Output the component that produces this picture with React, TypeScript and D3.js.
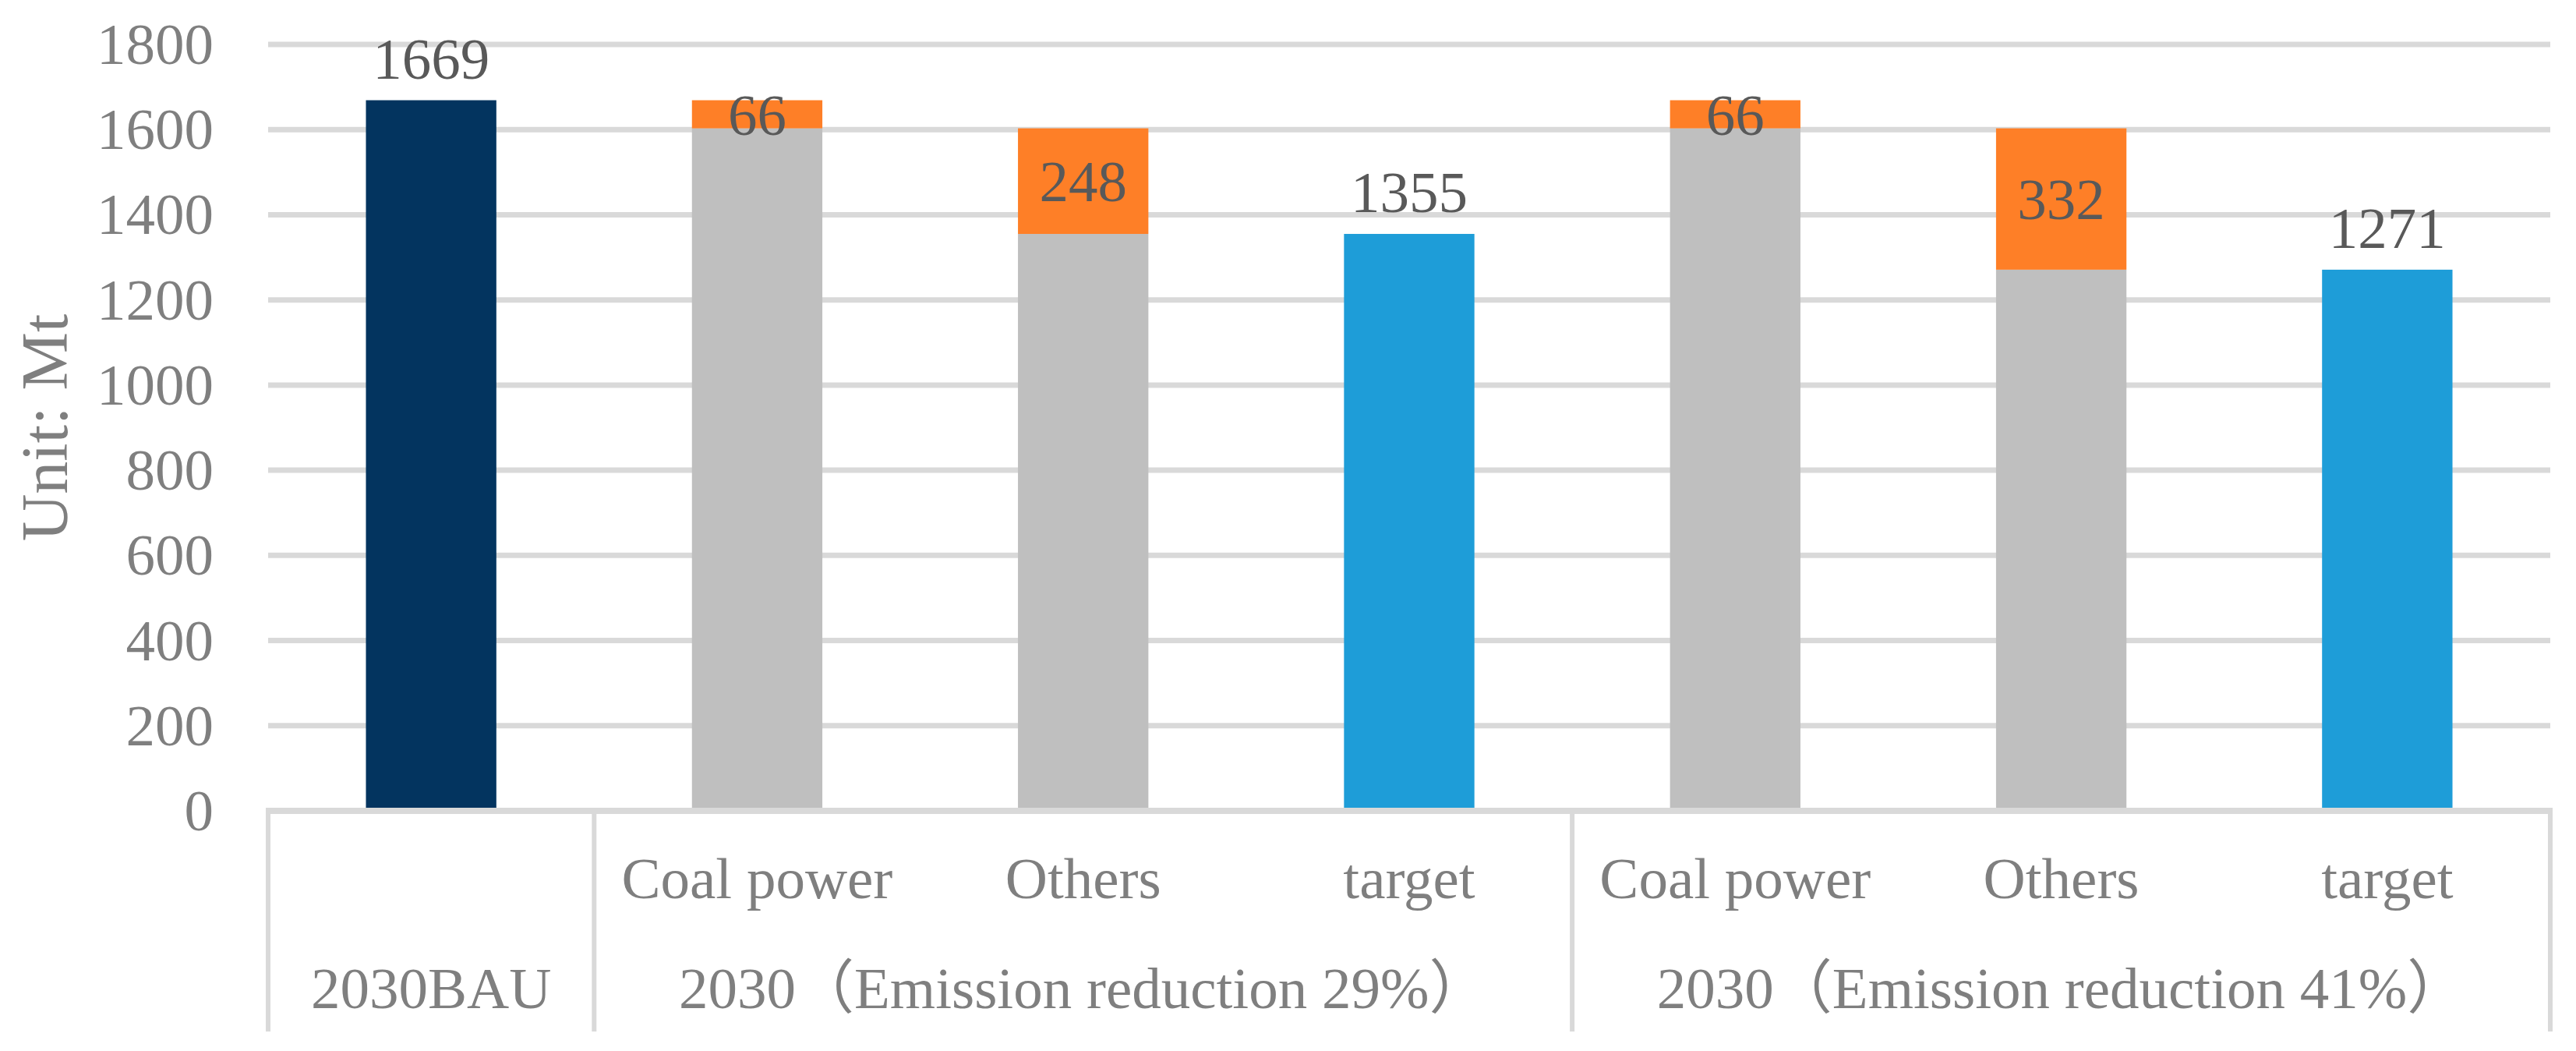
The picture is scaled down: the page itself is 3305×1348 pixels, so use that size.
import { useEffect, useRef } from 'react';
import * as d3 from 'd3';

// categories along the x axis (index keyed, names repeat)
const subLabels = ['', 'Coal power', 'Others', 'target', 'Coal power', 'Others', 'target'];
const barKinds = ['bau', 'step', 'step', 'target', 'step', 'step', 'target'];
// bottom part of each bar
const baseValues = [1669, 1603, 1355, 1355, 1603, 1271, 1271];
// reduction stacked on top (orange)
const reductionValues = [0, 66, 248, 0, 66, 332, 0];
// printed labels
const labelValues = [1669, 66, 248, 1355, 66, 332, 1271];
const groupLabels = ['2030BAU', '2030（Emission reduction 29%）', '2030（Emission reduction 41%）'];
const groupStart = [0, 1, 4];
const groupEnd = [0, 3, 6];
const yTicks = [0, 200, 400, 600, 800, 1000, 1200, 1400, 1600, 1800];

const colors: Record<string, string> = {
  bau: '#03345f',
  step: '#bfbfbf',
  target: '#1e9dd8',
  reduction: '#fe7f27',
};

export default function App() {
  const svgRef = useRef<SVGSVGElement>(null);

  useEffect(() => {
    if (!svgRef.current) return;
    const width = 3305;
    const height = 1348;
    const font = "'Liberation Serif', 'Times New Roman', 'Noto Sans CJK SC', serif";
    const fs = 75;

    const svg = d3.select(svgRef.current);
    svg.selectAll('*').remove();
    svg.attr('width', width).attr('height', height);

    const left = 344, right = 3272, top = 57, bottom = 1040, tableBottom = 1323;

    const idx = subLabels.map((_, i) => String(i));
    const x = d3.scaleBand().domain(idx).range([left, right]).paddingInner(0.6).paddingOuter(0.3);
    const step = x.step();
    const y = d3.scaleLinear().domain([0, 1800]).range([bottom, top]);

    // gridlines
    svg.append('g')
      .selectAll('line')
      .data(yTicks.filter(t => t > 0))
      .enter()
      .append('line')
      .attr('x1', left)
      .attr('x2', right)
      .attr('y1', d => y(d))
      .attr('y2', d => y(d))
      .attr('stroke', '#d9d9d9')
      .attr('stroke-width', 7);

    // y tick labels
    svg.append('g')
      .selectAll('text')
      .data(yTicks)
      .enter()
      .append('text')
      .attr('x', 274)
      .attr('y', d => y(d) + 25)
      .attr('text-anchor', 'end')
      .attr('font-family', font)
      .attr('font-size', fs)
      .attr('fill', '#7f7f7f')
      .text(d => d);

    // y axis title
    svg.append('text')
      .attr('transform', `translate(86, ${(top + bottom) / 2}) rotate(-90)`)
      .attr('text-anchor', 'middle')
      .attr('font-family', font)
      .attr('font-size', 84)
      .attr('fill', '#7f7f7f')
      .text('Unit: Mt');

    // bars
    const bars = svg.append('g');
    baseValues.forEach((v, i) => {
      bars.append('rect')
        .attr('x', x(String(i))!)
        .attr('width', x.bandwidth())
        .attr('y', y(v))
        .attr('height', y(0) - y(v))
        .attr('fill', colors[barKinds[i]]);
      if (reductionValues[i] > 0) {
        bars.append('rect')
          .attr('x', x(String(i))!)
          .attr('width', x.bandwidth())
          .attr('y', y(v + reductionValues[i]))
          .attr('height', y(v) - y(v + reductionValues[i]))
          .attr('fill', colors.reduction);
      }
    });

    // data labels
    labelValues.forEach((v, i) => {
      const cx = x(String(i))! + x.bandwidth() / 2;
      let ly: number;
      if (reductionValues[i] > 0) {
        const base = baseValues[i];
        ly = (y(base) + y(base + reductionValues[i])) / 2 + 26;
      } else {
        ly = y(baseValues[i]) - 28;
      }
      svg.append('text')
        .attr('x', cx)
        .attr('y', ly)
        .attr('text-anchor', 'middle')
        .attr('font-family', font)
        .attr('font-size', fs)
        .attr('fill', '#595959')
        .text(v);
    });

    // axis line + table
    const axis = svg.append('g').attr('stroke', '#d9d9d9');
    axis.append('line')
      .attr('x1', left - 3)
      .attr('x2', right + 3)
      .attr('y1', bottom)
      .attr('y2', bottom)
      .attr('stroke-width', 8);

    const edges = [left, ...groupEnd.map(e => left + step * (e + 1))];
    edges.forEach(ex => {
      axis.append('line')
        .attr('x1', ex)
        .attr('x2', ex)
        .attr('y1', bottom)
        .attr('y2', tableBottom)
        .attr('stroke-width', 6);
    });

    // sub category labels
    subLabels.forEach((s, i) => {
      if (!s) return;
      svg.append('text')
        .attr('x', x(String(i))! + x.bandwidth() / 2)
        .attr('y', 1152)
        .attr('text-anchor', 'middle')
        .attr('font-family', font)
        .attr('font-size', fs)
        .attr('fill', '#7f7f7f')
        .text(s);
    });

    // group labels
    groupLabels.forEach((g, i) => {
      const x0 = left + step * groupStart[i];
      const x1 = left + step * (groupEnd[i] + 1);
      svg.append('text')
        .attr('x', (x0 + x1) / 2)
        .attr('y', 1293)
        .attr('text-anchor', 'middle')
        .attr('font-family', font)
        .attr('font-size', fs)
        .attr('fill', '#7f7f7f')
        .text(g);
    });
  }, []);

  return (
    <div style={{ position: 'absolute', left: 0, top: 0, background: '#fff' }}>
      <svg ref={svgRef} style={{ display: 'block' }}></svg>
    </div>
  );
}
